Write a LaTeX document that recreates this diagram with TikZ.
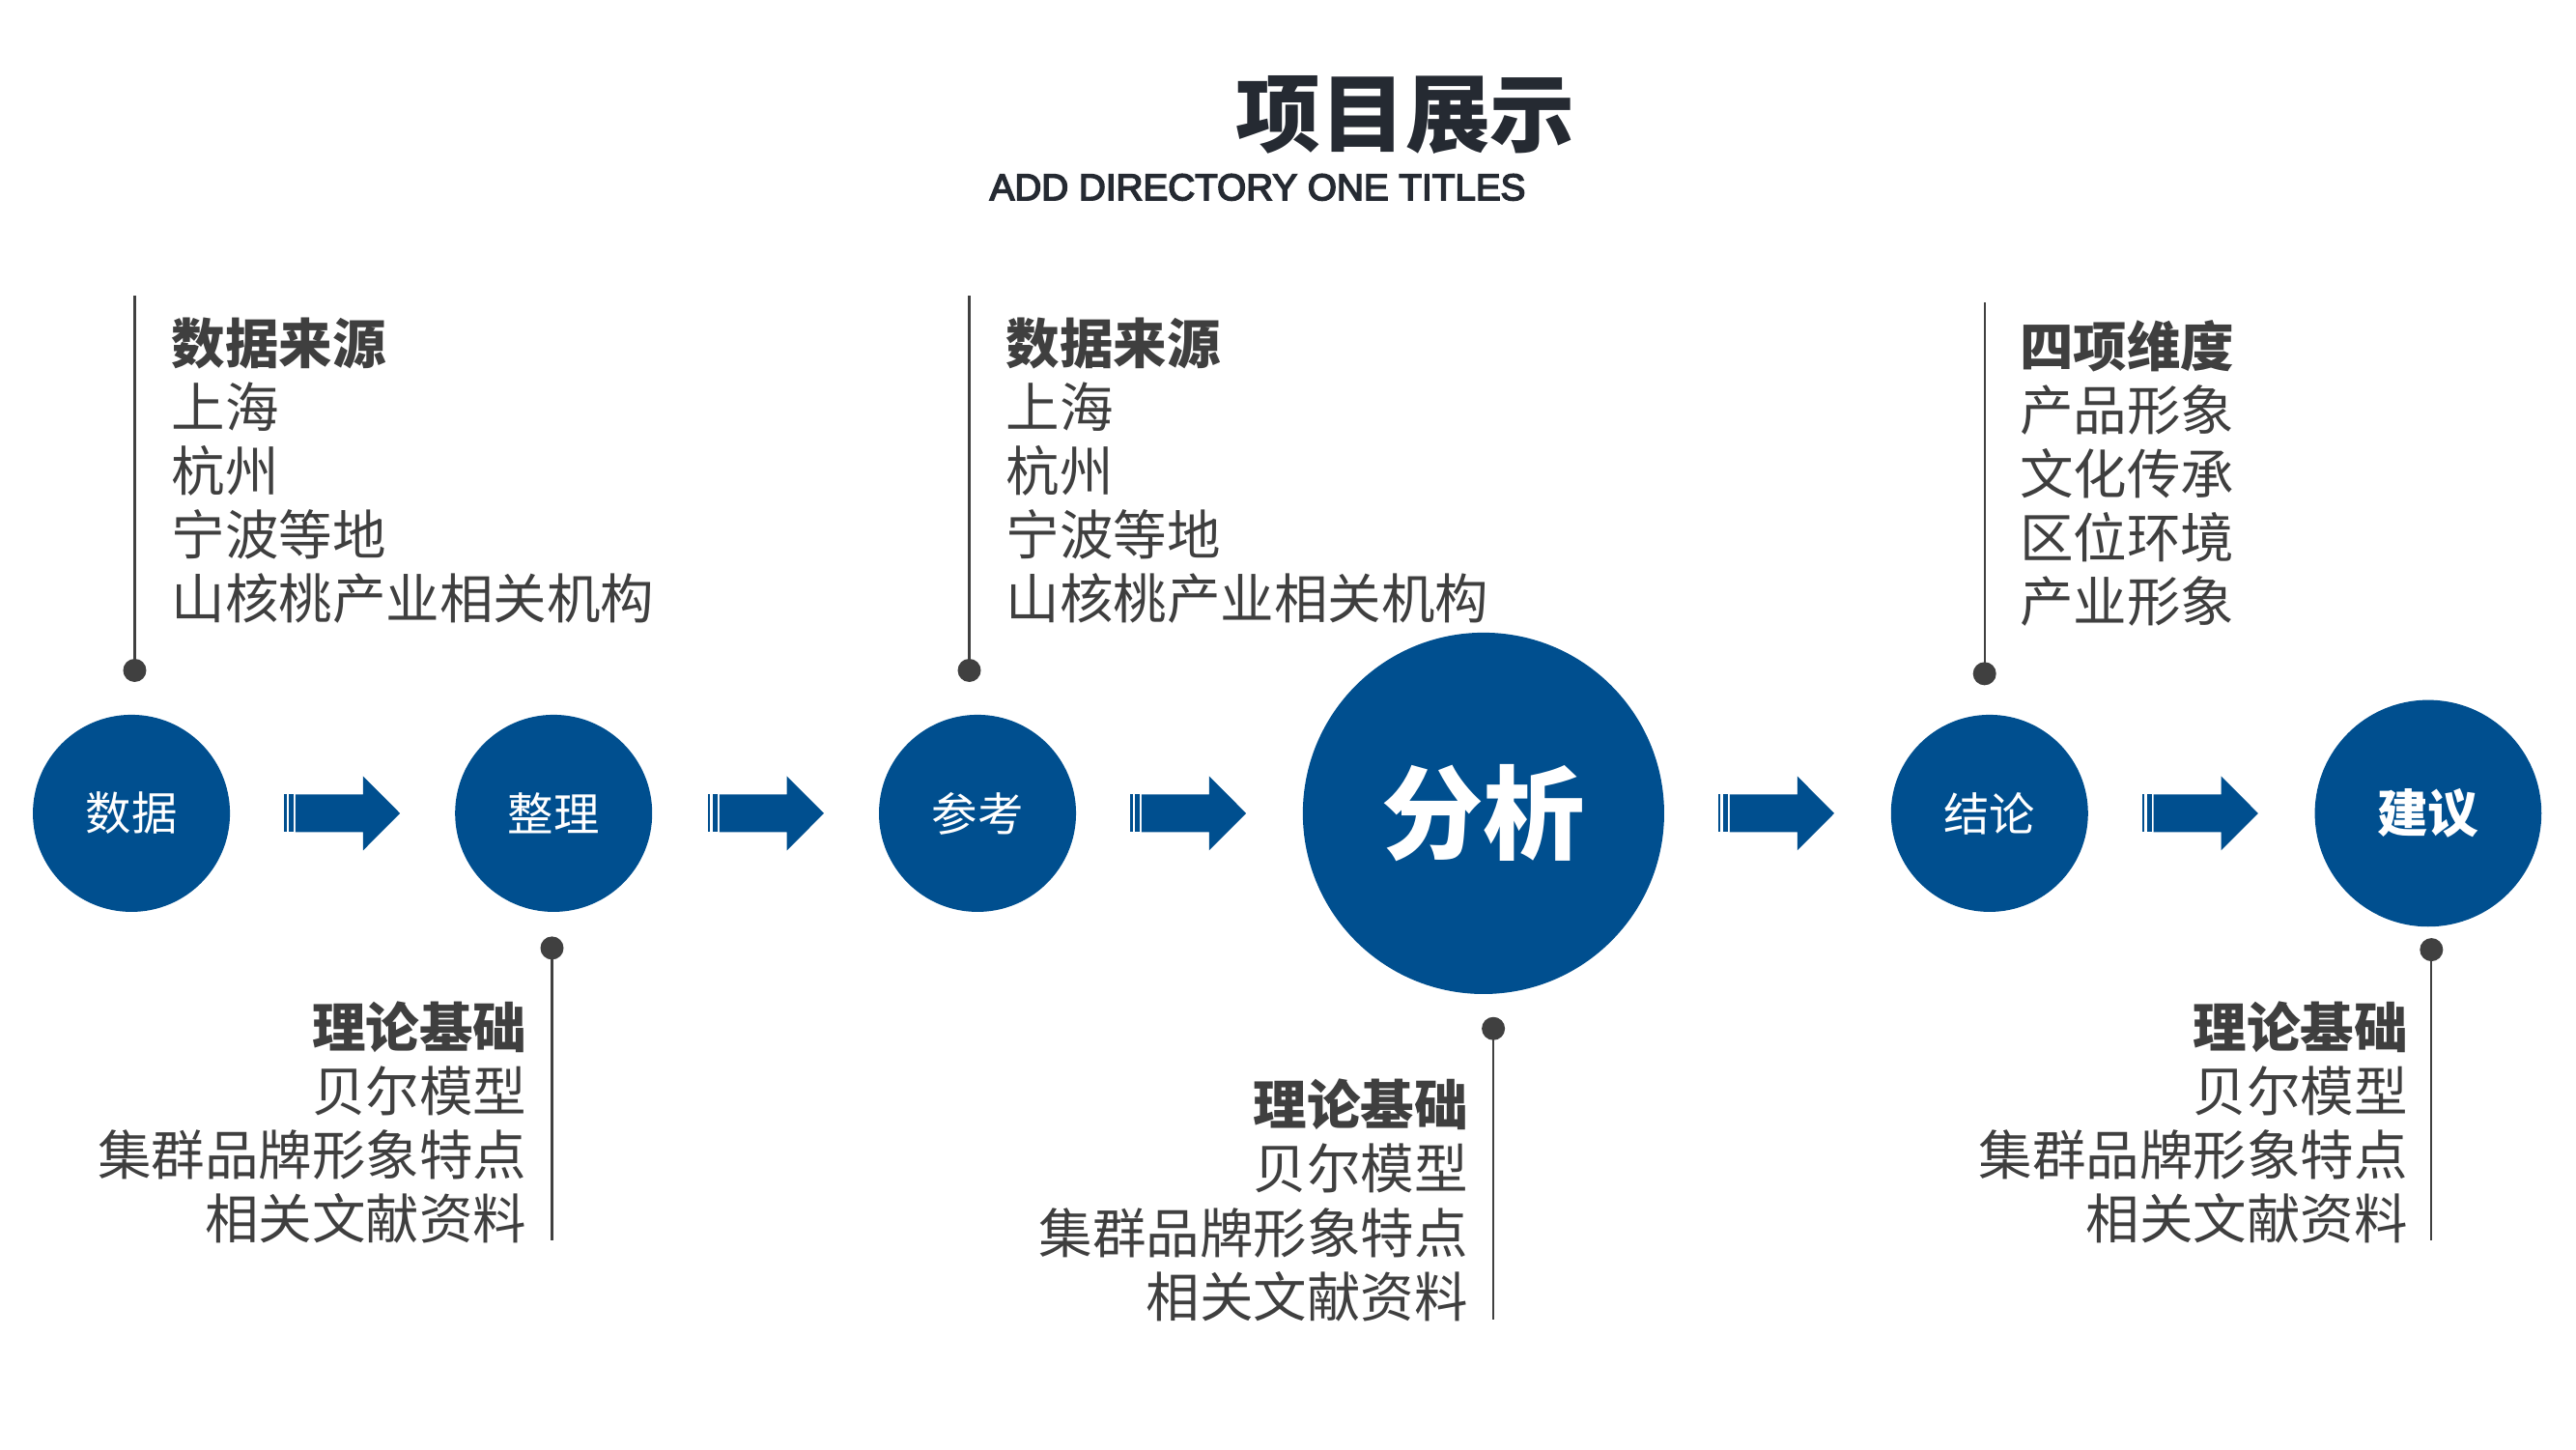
\documentclass[tikz,border=0pt]{standalone}
\usepackage{fontspec}
\setmainfont{Liberation Sans}
\newfontfamily\cjk{Noto Sans CJK SC}
\newfontfamily\subfont[FakeBold=4]{Liberation Sans}
\definecolor{mblue}{HTML}{004F8F}
\definecolor{tgray}{HTML}{3F3F3F}
\definecolor{tdark}{HTML}{252A32}
\definecolor{lgray}{HTML}{404040}
\tikzset{
  circ/.style={circle, fill=mblue, text=white, inner sep=0pt, minimum size=2.041cm, font=\cjk\fontsize{13.5}{16}\selectfont},
  blk/.style={text=tgray, inner sep=0pt, font=\cjk\fontsize{15.8}{18.8}\selectfont},
  leader/.style={draw=lgray, line width=0.6pt},
  dotc/.style={circle, fill=lgray, inner sep=0pt, minimum size=0.24cm},
  pics/flowarrow/.style={code={
    \fill[mblue] (0,-11.5) rectangle (1.35,11.5);
    \fill[mblue] (2.94,-11.5) rectangle (5.88,11.5);
    \fill[mblue] (6.88,-11.5) -- (48,-11.5) -- (48,-22.6) -- (70.5,0) -- (48,22.6) -- (48,11.5) -- (6.88,11.5) -- cycle;
  }}
}
\begin{document}
\begin{tikzpicture}[x=0.0170089cm, y=-0.0170089cm]
\useasboundingbox (0,0) rectangle (1568,882);

% titles
\node[text=tdark, inner sep=0pt, font=\cjk\bfseries\fontsize{25}{30}\selectfont] (title) at (855.5,70) {项目展示};
\node[text=tdark, inner sep=0pt, font=\subfont\fontsize{11}{13}\selectfont] (subtitle) at (765.5,114) {ADD DIRECTORY ONE TITLES};

% circles
\node[circ] (c1) at (80,495) {数据};
\node[circ] (c2) at (337,495) {整理};
\node[circ] (c3) at (595,495) {参考};
\node[circ, minimum size=3.742cm, font=\cjk\bfseries\fontsize{30}{36}\selectfont] (c4) at (903,495) {分析};
\node[circ] (c5) at (1211,495) {结论};
\node[circ, minimum size=2.347cm, font=\cjk\bfseries\fontsize{15}{18}\selectfont] (c6) at (1478,495) {建议};

% arrows
\pic at (173,495) {flowarrow};
\pic at (431,495) {flowarrow};
\pic at (688,495) {flowarrow};
\pic at (1046,495) {flowarrow};
\pic at (1304,495) {flowarrow};

% leaders
\node[dotc] (d1) at (82,408) {};
\coordinate (e1) at (82,180);
\draw[leader] (d1.center) -- (e1);
\node[dotc] (d2) at (336,577) {};
\coordinate (e2) at (336,755);
\draw[leader] (d2.center) -- (e2);
\node[dotc] (d3) at (590,408) {};
\coordinate (e3) at (590,180);
\draw[leader] (d3.center) -- (e3);
\node[dotc] (d4) at (909,626) {};
\coordinate (e4) at (909,803);
\draw[leader] (d4.center) -- (e4);
\node[dotc] (d5) at (1208,410) {};
\coordinate (e5) at (1208,184);
\draw[leader] (d5.center) -- (e5);
\node[dotc] (d6) at (1480,578) {};
\coordinate (e6) at (1480,755);
\draw[leader] (d6.center) -- (e6);

% text blocks
\node[blk, align=left, anchor=west] (t1) at (104,286.5) {{\bfseries 数据来源}\\上海\\杭州\\宁波等地\\山核桃产业相关机构};
\node[blk, align=right, anchor=east] (t2) at (321,683) {{\bfseries 理论基础}\\贝尔模型\\集群品牌形象特点\\相关文献资料};
\node[blk, align=left, anchor=west] (t3) at (612,286.5) {{\bfseries 数据来源}\\上海\\杭州\\宁波等地\\山核桃产业相关机构};
\node[blk, align=right, anchor=east] (t4) at (894,730.5) {{\bfseries 理论基础}\\贝尔模型\\集群品牌形象特点\\相关文献资料};
\node[blk, align=left, anchor=west] (t5) at (1229,288) {{\bfseries 四项维度}\\产品形象\\文化传承\\区位环境\\产业形象};
\node[blk, align=right, anchor=east] (t6) at (1466,683) {{\bfseries 理论基础}\\贝尔模型\\集群品牌形象特点\\相关文献资料};
\end{tikzpicture}
\end{document}
